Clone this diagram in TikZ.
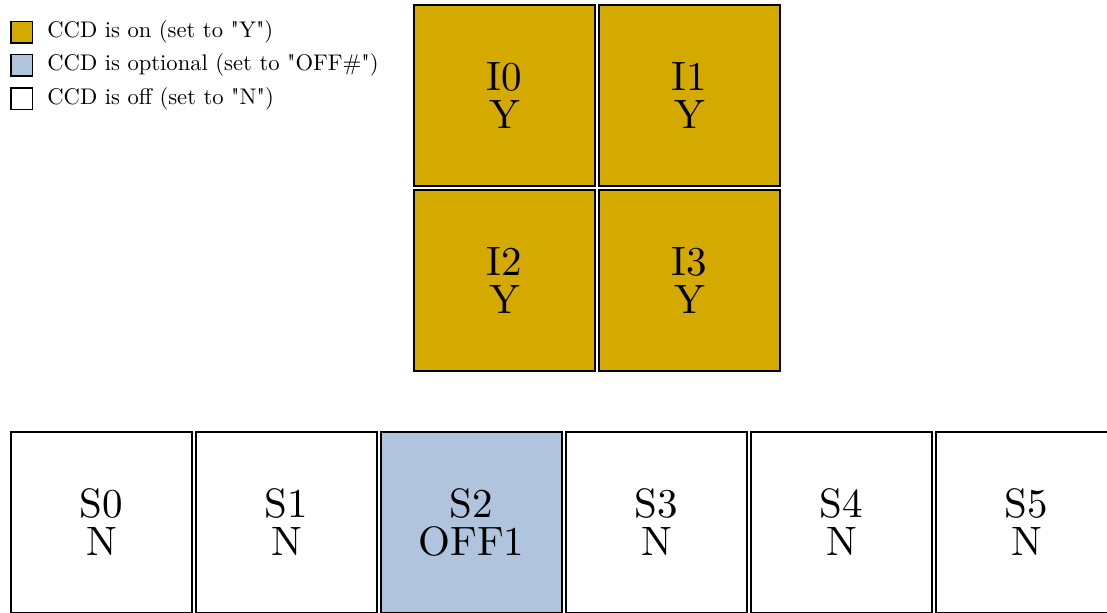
\documentclass[tikz,border=0pt]{standalone}
\usepackage{fontspec}
\setmainfont{lmroman10-regular.otf}[Ligatures=TeXOff]
\usepackage{tikz}
\usetikzlibrary{positioning}
\definecolor{ccdon}{RGB}{212,170,0}
\definecolor{ccdopt}{RGB}{176,196,222}

\begin{document}
\begin{tikzpicture}[x=0.5pt, y=-0.5pt,
    ccd/.style={draw, line width=1.2pt, minimum size=90.3pt, inner sep=0pt, align=center,
        font=\fontsize{20.5}{19}\selectfont},
    key/.style={draw, line width=0.75pt, minimum size=10.75pt, inner sep=0pt},
    keytext/.style={inner sep=0pt, anchor=west, font=\fontsize{11.3}{12}\selectfont}]
    \useasboundingbox (0,0) rectangle (1107,612);
    % legend
    \node[key, fill=ccdon] (k0) at (21.5,32) {};
    \node[key, fill=ccdopt] (k1) at (21.5,65) {};
    \node[key, fill=white] (k2) at (21.5,98.5) {};
    \node[keytext, right=7pt of k0] (t0) {CCD is on (set to "Y")};
    \node[keytext, right=7pt of k1] (t1) {CCD is optional (set to "OFF\#")};
    \node[keytext, right=7pt of k2] (t2) {CCD is off (set to "N")};
    % imaging array
    \node[ccd, fill=ccdon] (i0) at (504.5,95.5) {I0\\Y};
    \node[ccd, fill=ccdon, right=1pt of i0] (i1) {I1\\Y};
    \node[ccd, fill=ccdon, below=1pt of i0] (i2) {I2\\Y};
    \node[ccd, fill=ccdon, right=1pt of i2] (i3) {I3\\Y};
    % spectroscopy array
    \node[ccd, fill=white] (s0) at (101.5,522.5) {S0\\N};
    \foreach \i/\p/\c/\v in {1/0/white/N, 2/1/ccdopt/OFF1, 3/2/white/N, 4/3/white/N, 5/4/white/N}{
        \node[ccd, fill=\c, right=1pt of s\p] (s\i) {S\i\\\v};
    }
\end{tikzpicture}
\end{document}
